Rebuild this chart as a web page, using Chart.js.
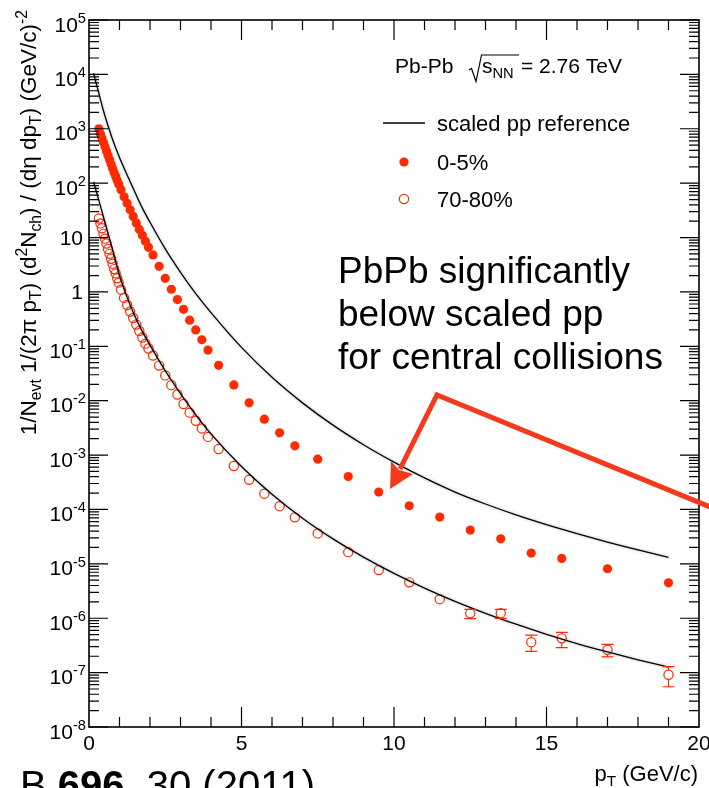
<!DOCTYPE html>
<html>
<head>
<meta charset="utf-8">
<script src="https://cdn.jsdelivr.net/npm/chart.js@4.4.0/dist/chart.umd.min.js"></script>
<style>
  html, body { margin: 0; padding: 0; background: #fff; }
  #wrap { width: 709px; height: 788px; }
</style>
</head>
<body>
<div id="wrap"><canvas id="spectra" width="709" height="788"></canvas></div>
<script>
// pT bin centres (GeV/c), same binning for both centrality classes
var ptBins = [0.325, 0.375, 0.425, 0.475, 0.525, 0.575, 0.625, 0.675, 0.725, 0.775, 0.825, 0.875, 0.925, 0.975,
  1.05, 1.15, 1.25, 1.35, 1.45, 1.55, 1.65, 1.75, 1.85, 1.95,
  2.1, 2.3, 2.5, 2.7, 2.9, 3.1, 3.3, 3.5, 3.7, 3.9,
  4.25, 4.75, 5.25, 5.75, 6.25, 6.75,
  7.5, 8.5, 9.5, 10.5, 11.5, 12.5, 13.5, 14.5, 15.5, 17, 19];

var central05 = [1000, 813, 676, 562, 468, 389, 324, 269, 224, 186, 155, 132, 112, 95.5,
  75.9, 56.2, 42.7, 32.4, 24.5, 18.6, 14.1, 11.0, 8.51, 6.61,
  4.79, 2.95, 1.78, 1.12, 0.724, 0.479, 0.302, 0.200, 0.132, 0.0851,
  0.0447, 0.0195, 0.00912, 0.00457, 0.00257, 0.00148,
  8.41e-4, 4.03e-4, 2.09e-4, 1.17e-4, 7.24e-5, 4.17e-5, 2.88e-5, 1.58e-5, 1.26e-5, 8.13e-6, 4.47e-6];

var periph7080 = [22.4, 18.2, 14.8, 11.7, 9.55, 7.76, 6.17, 5.01, 4.07, 3.31, 2.63, 2.19, 1.78, 1.48,
  1.10, 0.776, 0.575, 0.437, 0.331, 0.251, 0.191, 0.145, 0.112, 0.0912,
  0.0676, 0.0442, 0.0292, 0.0193, 0.0130, 0.00871, 0.00603, 0.00427, 0.00309, 0.00216,
  0.00129, 6.31e-4, 3.51e-4, 1.95e-4, 1.15e-4, 7.16e-5,
  3.63e-5, 1.64e-5, 7.67e-6, 4.57e-6, 2.24e-6, 1.23e-6, 1.24e-6, 3.63e-7, 4.27e-7, 2.63e-7, 9.12e-8];

// error bars only visible for 70-80% at high pT
var errPt = [12.5, 13.5, 14.5, 15.5, 17, 19];
var errLow = [9.8e-7, 9.9e-7, 2.45e-7, 2.88e-7, 1.95e-7, 5.5e-8];
var errHigh = [1.45e-6, 1.45e-6, 4.9e-7, 5.5e-7, 3.31e-7, 1.29e-7];

// scaled pp reference curves
var refPt = [0.15, 0.3, 0.5, 0.75, 1, 1.25, 1.5, 1.75, 2, 2.5, 3, 3.5, 4, 5, 6, 7, 8, 9, 10, 11, 12, 13, 14, 15, 16, 17, 18, 19];
var refCentral = [10500, 5010, 1905, 692, 295, 141, 69.2, 34.7, 19.1, 6.17, 2.29, 0.933, 0.417, 0.0955, 0.0269,
  0.00912, 0.00355, 0.00155, 7.41e-4, 3.80e-4, 2.09e-4, 1.26e-4, 7.94e-5, 5.25e-5, 3.59e-5, 2.51e-5, 1.80e-5, 1.32e-5];
var refPeriph = [105, 53.7, 21.4, 6.61, 2.00, 0.794, 0.363, 0.186, 0.105, 0.0355, 0.0135, 0.00550, 0.00245,
  6.17e-4, 1.91e-4, 6.92e-5, 2.88e-5, 1.33e-5, 6.68e-6, 3.59e-6, 2.04e-6, 1.23e-6, 7.76e-7, 5.07e-7, 3.43e-7,
  2.40e-7, 1.72e-7, 1.26e-7];

var yTickExps = [-8, -7, -6, -5, -4, -3, -2, -1, 0, 1, 2, 3, 4, 5];
var xTickVals = [0, 5, 10, 15, 20];
var seriesLabels = ['scaled pp reference', '0-5%', '70-80%'];

var FONT = '"Liberation Sans", Arial, Helvetica, sans-serif';
var RED = '#ff2a00';
var ARROW = '#f33a1d';

function pts(xs, ys) {
  return xs.map(function (x, i) { return { x: x, y: ys[i] }; });
}

// text with sub/superscripts: parts = [[text, 'n'|'sub'|'sup', bold?], ...]
function drawRich(ctx, parts, x, y, size, align) {
  var widths = [], total = 0, i;
  for (i = 0; i < parts.length; i++) {
    var s = parts[i][1] === 'n' ? size : size * 0.7;
    ctx.font = (parts[i][2] ? 'bold ' : '') + s + 'px ' + FONT;
    widths.push(ctx.measureText(parts[i][0]).width);
    total += widths[i];
  }
  var cx = align === 'right' ? x - total : (align === 'center' ? x - total / 2 : x);
  ctx.textAlign = 'left';
  ctx.textBaseline = 'alphabetic';
  for (i = 0; i < parts.length; i++) {
    var kind = parts[i][1];
    var s2 = kind === 'n' ? size : size * 0.7;
    var dy = kind === 'sub' ? size * 0.22 : (kind === 'sup' ? -size * 0.42 : 0);
    ctx.font = (parts[i][2] ? 'bold ' : '') + s2 + 'px ' + FONT;
    ctx.fillText(parts[i][0], cx, y + dy);
    cx += widths[i];
  }
  return total;
}

var rootStyle = {
  id: 'rootStyle',
  beforeDatasetDraw: function (chart, args) {
    if (args.index < 2) {
      chart.ctx.save();
      chart.ctx.shadowColor = 'rgba(0,0,0,0.35)';
      chart.ctx.shadowBlur = 3;
    }
  },
  afterDatasetDraw: function (chart, args) {
    if (args.index < 2) chart.ctx.restore();
  },
  afterDraw: function (chart) {
    var ctx = chart.ctx, a = chart.chartArea;
    var xs = chart.scales.x, ys = chart.scales.y;
    ctx.save();
    ctx.strokeStyle = '#000';
    ctx.fillStyle = '#000';

    // frame
    ctx.lineWidth = 1.6;
    ctx.strokeRect(a.left, a.top, a.right - a.left, a.bottom - a.top);

    // inward ticks, log y
    ctx.lineWidth = 1.2;
    ctx.beginPath();
    yTickExps.forEach(function (e) {
      var py = ys.getPixelForValue(Math.pow(10, e));
      ctx.moveTo(a.left, py); ctx.lineTo(a.left + 19, py);
      ctx.moveTo(a.right, py); ctx.lineTo(a.right - 19, py);
      if (e < 5) {
        for (var k = 2; k <= 9; k++) {
          var pm = ys.getPixelForValue(k * Math.pow(10, e));
          ctx.moveTo(a.left, pm); ctx.lineTo(a.left + 10, pm);
          ctx.moveTo(a.right, pm); ctx.lineTo(a.right - 10, pm);
        }
      }
    });
    // x ticks every 1 GeV/c
    for (var v = 1; v < 20; v++) {
      var px = xs.getPixelForValue(v);
      var len = v % 5 === 0 ? 20 : 10;
      ctx.moveTo(px, a.bottom); ctx.lineTo(px, a.bottom - len);
      ctx.moveTo(px, a.top); ctx.lineTo(px, a.top + len);
    }
    ctx.stroke();

    // y tick labels
    yTickExps.forEach(function (e) {
      var py = ys.getPixelForValue(Math.pow(10, e));
      if (e === 0) drawRich(ctx, [['1', 'n']], 83, py + 7.5, 21, 'right');
      else if (e === 1) drawRich(ctx, [['10', 'n']], 83, py + 7.5, 21, 'right');
      else drawRich(ctx, [['10', 'n'], [String(e), 'sup']], 86, py + 11.5, 21, 'right');
    });
    // x tick labels
    xTickVals.forEach(function (t) {
      drawRich(ctx, [[String(t), 'n']], xs.getPixelForValue(t), 750, 21, 'center');
    });

    // axis titles
    drawRich(ctx, [['p', 'n'], ['T', 'sub'], [' (GeV/c)', 'n']], 698, 781, 22, 'right');
    ctx.save();
    ctx.translate(36, 10);
    ctx.rotate(-Math.PI / 2);
    drawRich(ctx, [['1/N', 'n'], ['evt', 'sub'], [' 1/(2\u03c0 p', 'n'], ['T', 'sub'], [') (d', 'n'], ['2', 'sup'],
      ['N', 'n'], ['ch', 'sub'], [') / (d\u03b7 dp', 'n'], ['T', 'sub'], [') (GeV/c)', 'n'], ['-2', 'sup']],
      0, 0, 22.5, 'right');
    ctx.restore();

    // error bars (70-80%)
    ctx.strokeStyle = RED;
    ctx.lineWidth = 1.2;
    ctx.beginPath();
    errPt.forEach(function (p, i) {
      var px = xs.getPixelForValue(p);
      var pc = ys.getPixelForValue(periph7080[ptBins.indexOf(p)]);
      var ph = ys.getPixelForValue(errHigh[i]), pl = ys.getPixelForValue(errLow[i]);
      if (ph < pc - 4.6) { ctx.moveTo(px, ph); ctx.lineTo(px, pc - 4.6); }
      if (pl > pc + 4.6) { ctx.moveTo(px, pc + 4.6); ctx.lineTo(px, pl); }
      ctx.moveTo(px - 6, ph); ctx.lineTo(px + 6, ph);
      ctx.moveTo(px - 6, pl); ctx.lineTo(px + 6, pl);
    });
    ctx.stroke();

    // header + legend
    ctx.fillStyle = '#000';
    ctx.strokeStyle = '#000';
    ctx.font = '21px ' + FONT;
    ctx.textAlign = 'left';
    ctx.fillText('Pb-Pb', 395, 73);
    ctx.lineWidth = 1.2;
    ctx.beginPath();
    ctx.moveTo(469, 70); ctx.lineTo(471.5, 68.5); ctx.lineTo(476, 81.5); ctx.lineTo(481.5, 55); ctx.lineTo(519, 55);
    ctx.stroke();
    drawRich(ctx, [['s', 'n'], ['NN', 'sub']], 482, 73, 21, 'left');
    ctx.font = '21px ' + FONT;
    ctx.fillText('= 2.76 TeV', 521, 73);

    ctx.lineWidth = 1.3;
    ctx.beginPath();
    ctx.moveTo(383, 123); ctx.lineTo(425, 123);
    ctx.stroke();
    ctx.font = '22px ' + FONT;
    ctx.fillText(seriesLabels[0], 437, 131);
    ctx.fillText(seriesLabels[1], 437, 170);
    ctx.fillText(seriesLabels[2], 437, 207);
    ctx.fillStyle = RED;
    ctx.beginPath(); ctx.arc(404, 162, 4.6, 0, 2 * Math.PI); ctx.fill();
    ctx.strokeStyle = RED; ctx.lineWidth = 1.2;
    ctx.beginPath(); ctx.arc(404, 199, 4.6, 0, 2 * Math.PI); ctx.stroke();

    // annotation
    ctx.fillStyle = '#000';
    ctx.font = '37px ' + FONT;
    ctx.fillText('PbPb significantly', 338, 283);
    ctx.fillText('below scaled pp', 338, 326);
    ctx.fillText('for central collisions', 338, 369);

    ctx.strokeStyle = ARROW;
    ctx.fillStyle = ARROW;
    ctx.lineWidth = 5;
    ctx.lineJoin = 'miter';
    ctx.beginPath();
    ctx.moveTo(715, 509); ctx.lineTo(437, 395); ctx.lineTo(400, 469);
    ctx.stroke();
    ctx.beginPath();
    ctx.moveTo(390, 489); ctx.lineTo(391, 461); ctx.lineTo(399, 470); ctx.lineTo(413, 474);
    ctx.closePath();
    ctx.fill();

    // citation (cut by the page edge)
    ctx.fillStyle = '#000';
    drawRich(ctx, [['B ', 'n'], ['696', 'n', true], [', 30 (2011)', 'n']], 20, 799, 40, 'left');
    ctx.restore();
  }
};

var ctx = document.getElementById('spectra').getContext('2d');
new Chart(ctx, {
  type: 'scatter',
  data: {
    datasets: [
      { label: 'pp ref 0-5%', data: pts(refPt, refCentral), showLine: true, borderColor: '#000', borderWidth: 1.3,
        pointRadius: 0, cubicInterpolationMode: 'monotone' },
      { label: 'pp ref 70-80%', data: pts(refPt, refPeriph), showLine: true, borderColor: '#000', borderWidth: 1.3,
        pointRadius: 0, cubicInterpolationMode: 'monotone' },
      { label: seriesLabels[1], data: pts(ptBins, central05), pointRadius: 4.6, pointBackgroundColor: RED,
        pointBorderColor: RED, pointBorderWidth: 0 },
      { label: seriesLabels[2], data: pts(ptBins, periph7080), pointRadius: 4.6, pointBackgroundColor: 'rgba(0,0,0,0)',
        pointBorderColor: RED, pointBorderWidth: 1.2 }
    ]
  },
  options: {
    responsive: false,
    animation: false,
    events: [],
    layout: { padding: { left: 89, right: 10, top: 20, bottom: 61 } },
    plugins: { legend: { display: false }, tooltip: { enabled: false } },
    scales: {
      x: { type: 'linear', min: 0, max: 20, display: false },
      y: { type: 'logarithmic', min: 1e-8, max: 1e5, display: false }
    }
  },
  plugins: [rootStyle]
});
</script>
</body>
</html>
